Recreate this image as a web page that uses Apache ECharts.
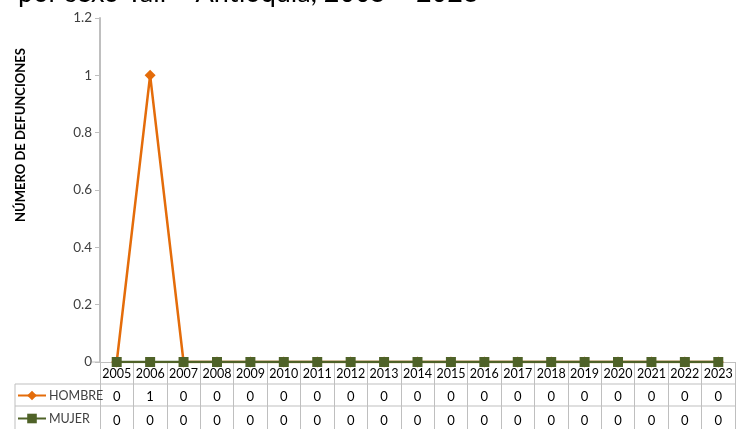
<!DOCTYPE html>
<html><head><meta charset="utf-8">
<script src="https://cdn.jsdelivr.net/npm/echarts@6/dist/echarts.min.js"></script>
<style>html,body{margin:0;padding:0;background:#fff}#c{width:744px;height:429px}</style>
</head><body><div id="c"></div>
<script>
const years = ['2005','2006','2007','2008','2009','2010','2011','2012','2013','2014','2015','2016','2017','2018','2019','2020','2021','2022','2023'];
const hombre = [0,1,0,0,0,0,0,0,0,0,0,0,0,0,0,0,0,0,0];
const mujer  = [0,0,0,0,0,0,0,0,0,0,0,0,0,0,0,0,0,0,0];
const yTicks = [0,0.2,0.4,0.6,0.8,1,1.2];
const titleText = 'por sexo Yalí – Antioquia, 2005 – 2023';
const yName = 'NÚMERO DE DEFUNCIONES';

const FONT = 'Lato';
const gray = '#bfbfbf';
const chart = echarts.init(document.getElementById('c'));
chart.setOption({
  animation: false,
  textStyle: {fontFamily: FONT},
  title: {text: titleText, left: 13, top: -25, textStyle: {fontSize: 27, fontWeight: 'normal', color: '#000', fontFamily: FONT}},
  grid: {left: 100, right: 9, top: 18, bottom: 67},
  legend: {
    orient: 'vertical', left: 17, top: 389, padding: 0, itemWidth: 28, itemHeight: 12, itemGap: 10,
    textStyle: {fontSize: 12.5, color: '#404040', padding: [0,0,0,-2]},
    data: ['HOMBRE','MUJER']
  },
  xAxis: [
    {type: 'category', data: years, boundaryGap: true,
     axisLine: {lineStyle: {color: gray, width: 1}},
     axisTick: {show: true, length: 70, lineStyle: {color: gray}},
     axisLabel: {color: '#000', fontSize: 12.5, margin: 5, interval: 0}},
    {type: 'category', data: hombre.map(String), position: 'bottom', offset: 22, gridIndex: 0,
     axisLine: {show: false}, axisTick: {show: false},
     axisLabel: {color: '#000', fontSize: 13, margin: 6, interval: 0}},
    {type: 'category', data: mujer.map(String), position: 'bottom', offset: 46, gridIndex: 0,
     axisLine: {show: false}, axisTick: {show: false},
     axisLabel: {color: '#000', fontSize: 13, margin: 6, interval: 0}}
  ],
  yAxis: {
    type: 'value', min: 0, max: yTicks[yTicks.length-1], interval: 0.2,
    name: yName, nameLocation: 'middle', nameGap: 73, nameRotate: 90,
    nameTextStyle: {fontSize: 13, fontWeight: 'bold', color: '#000', padding: [0,0,0,110]},
    axisLine: {show: true, lineStyle: {color: gray, width: 2}},
    axisTick: {show: true, length: 5, lineStyle: {color: gray}},
    splitLine: {show: false},
    axisLabel: {color: '#404040', fontSize: 13.5, margin: 8, formatter: v => String(Math.round(v*10)/10)}
  },
  graphic: [
    {type: 'line', shape: {x1: 15, y1: 384, x2: 735, y2: 384}, style: {stroke: gray, lineWidth: 1}},
    {type: 'line', shape: {x1: 15, y1: 406, x2: 735, y2: 406}, style: {stroke: gray, lineWidth: 1}},
    {type: 'line', shape: {x1: 15, y1: 384, x2: 15, y2: 429}, style: {stroke: gray, lineWidth: 1}},
    {type: 'line', shape: {x1: 92, y1: 362, x2: 100, y2: 362}, style: {stroke: gray, lineWidth: 1}}
  ],
  series: [
    {name: 'HOMBRE', type: 'line', data: hombre, symbol: 'diamond', symbolSize: 11,
     lineStyle: {color: '#E46C0A', width: 2.5}, itemStyle: {color: '#E46C0A'}, z: 2},
    {name: 'MUJER', type: 'line', data: mujer, symbol: 'rect', symbolSize: 10,
     lineStyle: {color: '#4F6228', width: 2.5}, itemStyle: {color: '#4F6228'}, z: 3}
  ]
});
</script></body></html>
